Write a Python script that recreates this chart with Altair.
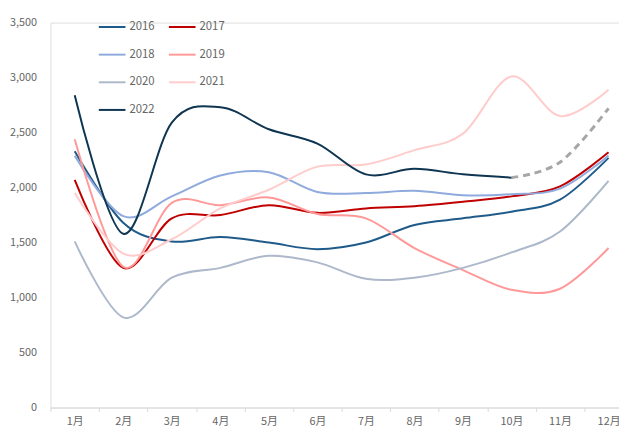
import altair as alt
import pandas as pd

months = ["1月", "2月", "3月", "4月", "5月", "6月", "7月", "8月", "9月", "10月", "11月", "12月"]
years = ["2016", "2017", "2018", "2019", "2020", "2021", "2022"]
y2016 = [2330, 1680, 1510, 1550, 1500, 1440, 1500, 1660, 1720, 1780, 1890, 2270]
y2017 = [2070, 1270, 1720, 1750, 1840, 1770, 1810, 1830, 1870, 1920, 2010, 2320]
y2018 = [2290, 1740, 1920, 2110, 2140, 1960, 1950, 1970, 1930, 1940, 1990, 2290]
y2019 = [2440, 1280, 1860, 1840, 1910, 1760, 1720, 1450, 1250, 1070, 1080, 1450]
y2020 = [1510, 820, 1180, 1270, 1380, 1320, 1170, 1180, 1270, 1410, 1600, 2060]
y2021 = [1950, 1400, 1530, 1810, 1980, 2190, 2210, 2340, 2490, 3010, 2650, 2890]
y2022 = [2840, 1580, 2590, 2730, 2530, 2400, 2120, 2170, 2120, 2090]
forecast_months = ["10月", "11月", "12月"]
forecast_vals = [2090, 2230, 2720]

colors = ["#1f5b8a", "#c00000", "#8faadc", "#ff9999", "#adb9ca", "#ffcccc", "#0e3551"]
widths = [2, 2, 2, 2, 2, 2, 3.8]

series = [y2016, y2017, y2018, y2019, y2020, y2021, y2022]
rows = []
for yr, vals in zip(years, series):
    for m, v in zip(months, vals):
        rows.append({"year": yr, "month": m, "value": v})
df = pd.DataFrame(rows)
fdf = pd.DataFrame({"month": forecast_months, "value": forecast_vals})

FONT = "Noto Sans CJK SC"
LABEL = "#666666"

xenc = alt.X("month:N", sort=months,
             scale=alt.Scale(domain=months, paddingInner=0, paddingOuter=0, range=[0, 590]),
             axis=alt.Axis(title=None, labelAngle=0, domainColor="#d9d9d9", tickColor="#d9d9d9",
                           tickSize=4, tickBand="extent", labelPadding=4, labelColor=LABEL,
                           labelFontSize=11, labelFont=FONT))
yenc = alt.Y("value:Q", scale=alt.Scale(domain=[0, 3500], nice=False),
             axis=alt.Axis(title=None, values=[0, 500, 1000, 1500, 2000, 2500, 3000, 3500],
                           format=",.0f", domain=False, ticks=False, grid=False, labelPadding=14,
                           labelColor=LABEL, labelFontSize=11, labelFont=FONT))

leg = dict(title=None, orient="none", legendX=48, legendY=-10,
           columns=2, symbolType="stroke", symbolSize=729,
           columnPadding=10, rowPadding=8, labelOffset=3,
           labelColor=LABEL, labelFontSize=11.5, labelFont=FONT,
           direction="horizontal")

lines = alt.Chart(df).mark_line(interpolate="cardinal").encode(
    x=xenc,
    y=yenc,
    color=alt.Color("year:N", scale=alt.Scale(domain=years, range=colors), legend=alt.Legend(**leg)),
    strokeWidth=alt.StrokeWidth("year:N", scale=alt.Scale(domain=years, range=widths),
                                legend=alt.Legend(**leg)),
    order=alt.Order("year:N"),
)

fc = alt.Chart(fdf).mark_line(interpolate="cardinal", color="#a6a6a6", strokeWidth=3,
                              strokeDash=[7, 5]).encode(x=xenc, y=yenc)

chart = alt.layer(fc, lines).properties(
    width=576, height=390,
    padding={"left": 43, "top": 12, "right": 0, "bottom": 20},
    autosize=alt.AutoSizeParams(type="none"),
).configure_view(stroke=None).configure(font=FONT)

chart.save("out.html", embed_options={"renderer": "svg", "actions": False})
